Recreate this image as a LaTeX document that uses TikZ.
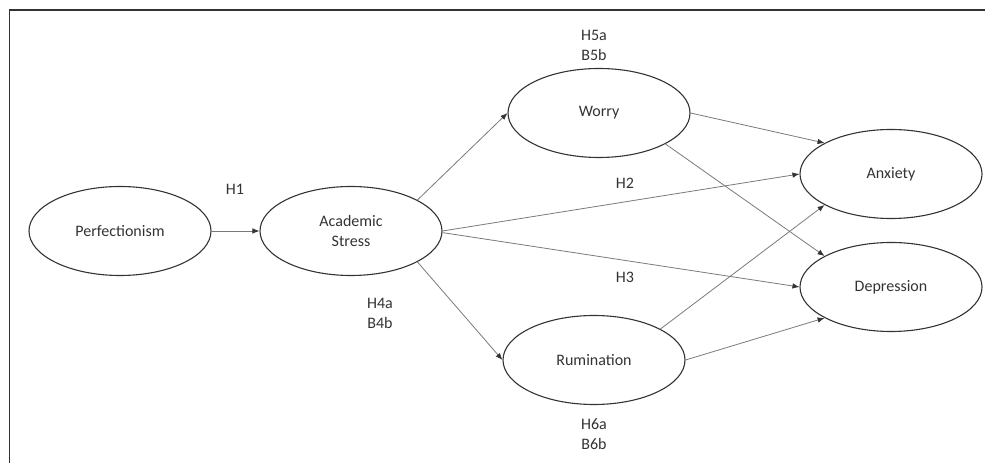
\documentclass[tikz,border=0pt]{standalone}
\usepackage{fontspec}
\setmainfont{Carlito}
\usetikzlibrary{arrows.meta,shapes.geometric}
\definecolor{ink}{HTML}{333333}
\definecolor{wire}{HTML}{7A7A7A}
\begin{document}
\begin{tikzpicture}[x=1pt,y=1pt,
  font=\fontsize{16}{20}\selectfont,
  latent/.style={ellipse,draw=ink,line width=1.1pt,minimum width=182pt,minimum height=89pt,inner sep=0pt,text=ink,align=center},
  lbl/.style={text=ink,align=center,inner sep=0pt},
  conn/.style={draw=wire,line width=0.8pt,-{Latex[length=7pt,width=5.5pt,color=ink]}}
]
\useasboundingbox (0,0) rectangle (985,463);
\draw[ink,line width=1.6pt] (9.5,0) -- (9.5,453) -- (985,453);

\node[latent] (P) at (120,232) {Perfectionism};
\node[latent] (AS) at (351,232) {Academic\\Stress};
\node[latent] (W) at (599,350) {Worry};
\node[latent] (R) at (594,103) {Rumination};
\node[latent] (Anx) at (891,289) {Anxiety};
\node[latent] (Dep) at (891,176) {Depression};

\node[lbl] (h1) at (235,274) {H1};
\node[lbl] (h5) at (594,418) {H5a\\B5b};
\node[lbl] (h2) at (625,280) {H2};
\node[lbl] (h3) at (625,186) {H3};
\node[lbl] (h4) at (380,150) {H4a\\B4b};
\node[lbl] (h6) at (594,29) {H6a\\B6b};

\draw[conn] (P.east) -- (AS.west);
\draw[conn] (AS.25) -- (W.180);
\draw[conn] (AS.0) -- (Anx.180);
\draw[conn] (AS.-1) -- (Dep.180);
\draw[conn] (AS.-25) -- (R.180);
\draw[conn] (W.0) -- (Anx.155);
\draw[conn] (W.-25) -- (Dep.155);
\draw[conn] (R.25) -- (Anx.205);
\draw[conn] (R.0) -- (Dep.205);
\end{tikzpicture}
\end{document}
